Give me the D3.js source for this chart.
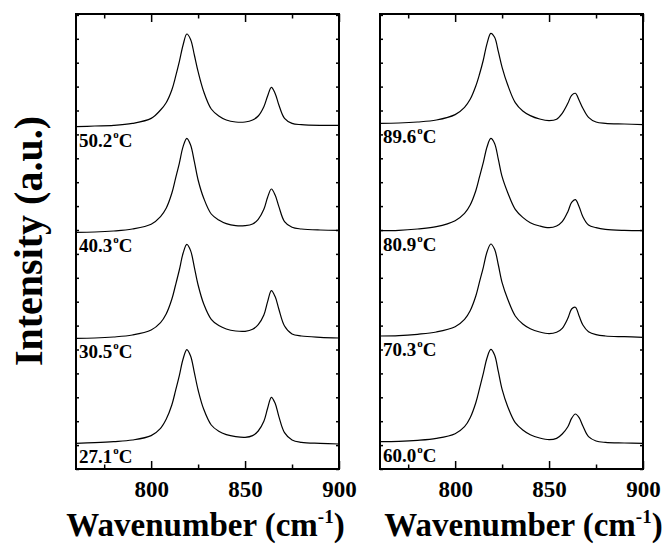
<!DOCTYPE html>
<html>
<head>
<meta charset="utf-8">
<script src="https://cdn.jsdelivr.net/npm/d3@7"></script>
<style>
  body { margin: 0; background: #fff; }
  svg { display: block; }
</style>
</head>
<body>
<div id="chart"></div>
<script>
// wavenumber grid (cm-1) the spectra were read at
var wavenumbers = [760, 770, 780, 790, 800, 805, 808, 811, 813, 815, 817, 819, 821, 823, 825, 828, 832, 836, 840, 845, 850, 854, 857, 860, 862, 864, 866, 868, 871, 875, 880, 890, 900];

// left panel
var leftTemps = ["50.2", "40.3", "30.5", "27.1"];
var leftOffsets = [342.3, 236.7, 130.7, 25.7];
var spec502 = [0, 0.7, 1.3, 3.3, 8.3, 16.7, 24, 36.7, 50, 65, 81.7, 92.7, 87.3, 71.7, 55, 35, 17.7, 10.7, 6.7, 4.7, 4.7, 6.7, 10.7, 20, 30.7, 39.3, 33.3, 21.7, 8.3, 3.3, 2, 1.3, 1.3];
var spec403 = [0, 0.3, 1.3, 3.3, 8, 15.7, 24, 39, 54, 69, 85.7, 94, 87.3, 70.7, 52.3, 34, 18.3, 12.3, 8.7, 6.7, 6.7, 8.3, 13, 23, 35, 43.3, 37.3, 25.7, 10.7, 5, 3.3, 2.3, 2];
var spec305 = [0, 0.3, 1.3, 3.3, 8.3, 15.7, 24.3, 39, 53.3, 68.3, 85, 94, 87.7, 71, 53.3, 34.3, 19, 12.7, 9.3, 7.3, 7, 9, 13.7, 23.3, 36.7, 47.7, 41.7, 29, 12.3, 4.3, 2.3, 1, 0.3];
var spec271 = [0, 0.7, 1.7, 3.3, 7.7, 15, 24, 38.3, 52.7, 67.7, 84.3, 93.7, 87.3, 70.7, 53.3, 34, 18.3, 12, 8.7, 6.7, 6, 7.7, 12.3, 22, 35, 46, 40, 26.7, 10.7, 3.3, 1, 0, -0.7];

// right panel
var rightTemps = ["89.6", "80.9", "70.3", "60.0"];
var rightOffsets = [345.7, 238.3, 133, 27.3];
var spec896 = [0, 0.3, 1.3, 3.3, 8.7, 16, 24, 37.3, 49.3, 63.3, 80, 90, 86, 71.7, 56, 38.3, 20.7, 12.3, 7.7, 4.3, 2.7, 4, 10, 20, 28, 30, 23, 15, 6, 1.3, 0, -0.7, -1.3];
var spec809 = [0, 0.3, 1.7, 4, 10, 17.3, 25.7, 40, 54, 68.3, 84, 92.3, 87.3, 71.3, 54, 38, 21.3, 13.3, 8, 4.7, 3, 4.7, 9, 19, 28.3, 31, 24, 14, 5.7, 3, 1.3, 0.3, 0];
var spec703 = [0, 0.3, 1.7, 4, 9.3, 16.7, 25.3, 40, 54.3, 68.7, 84.3, 92, 86.7, 71, 53.3, 36.7, 20, 12, 7.3, 4, 2.3, 3.7, 7.7, 17.7, 27, 28.7, 20, 11, 4.3, 1.3, 0, -0.7, -1.3];
var spec600 = [0, 0.3, 1.3, 3.3, 8, 15, 24, 39, 53.3, 68.3, 84, 92.3, 86.7, 70, 52.3, 35, 19, 11.7, 7, 3.7, 2, 3.3, 7.7, 15, 23.3, 27.7, 24, 15.7, 5, 0.7, -0.7, -1.3, -1.7];

var majorTicks = [800, 850, 900];
var minorTicks = [775, 825, 875];

var W = 666, H = 552;
var top_y = 14, bottom_y = 469;
var fontFam = "'Liberation Serif', 'Times New Roman', Times, serif";

var svg = d3.select("#chart")
  .append("svg")
    .attr("width", W)
    .attr("height", H);

var y = d3.scaleLinear()
    .domain([0, 455])
    .range([bottom_y, top_y]);

var yTicks = d3.range(0, 455, 23.9);

function drawPanel(x0, x1, temps, offsets, spectra, titleShift) {
  var x = d3.scaleLinear()
      .domain([760, 900])
      .range([x0, x1]);

  var g = svg.append("g");

  // bottom axis, ticks point inward
  g.append("g")
    .attr("transform", "translate(0," + bottom_y + ")")
    .call(d3.axisBottom(x).tickValues(majorTicks).tickSize(-8).tickPadding(12))
    .call(function(a) { a.select(".domain").remove(); })
    .call(function(a) {
      a.selectAll("text")
        .style("font-family", fontFam)
        .style("font-size", "23px")
        .style("font-weight", "bold")
        .style("fill", "#000");
    });
  g.append("g")
    .attr("transform", "translate(0," + bottom_y + ")")
    .call(d3.axisBottom(x).tickValues(minorTicks).tickSize(-4.5).tickFormat(""))
    .call(function(a) { a.select(".domain").remove(); });

  // top axis
  g.append("g")
    .attr("transform", "translate(0," + top_y + ")")
    .call(d3.axisTop(x).tickValues(majorTicks).tickSize(-8).tickFormat(""))
    .call(function(a) { a.select(".domain").remove(); });
  g.append("g")
    .attr("transform", "translate(0," + top_y + ")")
    .call(d3.axisTop(x).tickValues(minorTicks).tickSize(-4.5).tickFormat(""))
    .call(function(a) { a.select(".domain").remove(); });

  // left / right minor ticks
  g.append("g")
    .attr("transform", "translate(" + x0 + ",0)")
    .call(d3.axisLeft(y).tickValues(yTicks).tickSize(-3).tickFormat(""))
    .call(function(a) { a.select(".domain").remove(); });
  g.append("g")
    .attr("transform", "translate(" + x1 + ",0)")
    .call(d3.axisRight(y).tickValues(yTicks).tickSize(-3).tickFormat(""))
    .call(function(a) { a.select(".domain").remove(); });

  g.selectAll(".tick line")
    .style("stroke", "#000")
    .style("stroke-width", 1.5);

  // frame
  g.append("rect")
    .attr("x", x0)
    .attr("y", top_y)
    .attr("width", x1 - x0)
    .attr("height", bottom_y - top_y)
    .style("fill", "none")
    .style("stroke", "#000")
    .style("stroke-width", 2);

  var line = d3.line()
    .curve(d3.curveCatmullRom.alpha(0.5))
    .x(function(d, i) { return x(wavenumbers[i]); })
    .y(function(d) { return y(d); });

  spectra.forEach(function(s, k) {
    var shifted = s.map(function(v) { return v + offsets[k]; });
    g.append("path")
      .datum(shifted)
      .attr("d", line)
      .style("fill", "none")
      .style("stroke", "#000")
      .style("stroke-width", 1.2);

    // temperature label under each trace
    var t = g.append("text")
      .attr("x", x0 + 3)
      .attr("y", y(offsets[k]) + 20)
      .style("font-family", fontFam)
      .style("font-size", "19px")
      .style("font-weight", "bold");
    t.append("tspan").text(temps[k]);
    t.append("tspan").attr("dx", 1).attr("dy", -9).style("font-size", "11px").text("o");
    t.append("tspan").attr("dy", 9).text("C");
  });

  // x axis title
  var title = g.append("text")
    .attr("x", (x0 + x1) / 2 + titleShift)
    .attr("y", 536)
    .attr("text-anchor", "middle")
    .style("font-family", fontFam)
    .style("font-size", "33px")
    .style("font-weight", "bold");
  title.append("tspan").text("Wavenumber (cm");
  title.append("tspan").attr("dy", -13).style("font-size", "19px").text("-1");
  title.append("tspan").attr("dy", 13).text(")");
}

drawPanel(76, 339, leftTemps, leftOffsets, [spec502, spec403, spec305, spec271], -2);
drawPanel(380, 643, rightTemps, rightOffsets, [spec896, spec809, spec703, spec600], 12);

// y axis title
svg.append("text")
  .attr("transform", "translate(42," + 241 + ") rotate(-90)")
  .attr("text-anchor", "middle")
  .style("font-family", fontFam)
  .style("font-size", "40px")
  .style("font-weight", "bold")
  .text("Intensity (a.u.)");
</script>
</body>
</html>
